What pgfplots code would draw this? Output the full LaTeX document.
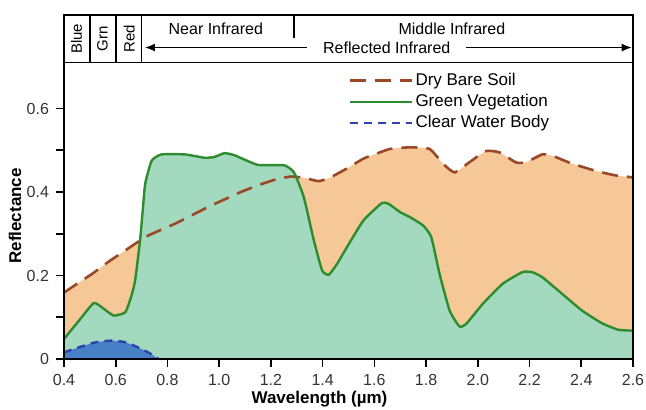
\documentclass[border=0pt]{standalone}
\usepackage{pgfplots}
\pgfplotsset{compat=1.18}
\usepackage{pgfplotstable}
\usepgfplotslibrary{fillbetween}
\usetikzlibrary{arrows.meta}
\usepackage{fontspec}
\setmainfont{Liberation Sans}
\definecolor{soilfill}{RGB}{246,200,152}
\definecolor{vegfill}{RGB}{163,217,190}
\definecolor{waterfill}{RGB}{72,128,200}
\definecolor{soilline}{RGB}{155,72,38}
\definecolor{vegline}{RGB}{45,140,45}
\definecolor{waterline}{RGB}{45,65,175}

\pgfplotstableread{
x y
0.400 0.159
0.450 0.180
0.509 0.204
0.570 0.232
0.637 0.260
0.714 0.292
0.770 0.308
0.829 0.324
0.890 0.343
0.957 0.364
1.020 0.382
1.084 0.400
1.150 0.416
1.213 0.429
1.276 0.437
1.328 0.434
1.385 0.426
1.430 0.435
1.490 0.455
1.558 0.480
1.609 0.492
1.660 0.503
1.737 0.507
1.814 0.503
1.865 0.468
1.910 0.447
1.967 0.471
2.031 0.498
2.083 0.495
2.147 0.471
2.185 0.471
2.249 0.490
2.287 0.487
2.364 0.468
2.454 0.451
2.530 0.440
2.600 0.435
}\soil

\pgfplotstableread{
x y
0.400 0.048
0.458 0.092
0.515 0.134
0.550 0.122
0.592 0.104
0.637 0.112
0.660 0.150
0.675 0.188
0.694 0.284
0.705 0.360
0.714 0.420
0.739 0.475
0.777 0.490
0.867 0.490
0.944 0.482
0.982 0.484
1.020 0.493
1.059 0.488
1.149 0.465
1.251 0.464
1.289 0.447
1.327 0.388
1.366 0.284
1.398 0.212
1.424 0.202
1.456 0.228
1.494 0.268
1.558 0.332
1.628 0.373
1.654 0.372
1.699 0.352
1.737 0.340
1.788 0.320
1.820 0.292
1.852 0.204
1.891 0.116
1.929 0.078
1.955 0.084
2.019 0.132
2.096 0.180
2.172 0.208
2.210 0.208
2.249 0.196
2.326 0.156
2.403 0.116
2.479 0.086
2.543 0.070
2.600 0.068
}\veg

\pgfplotstableread{
x y
0.400 0.016
0.458 0.028
0.522 0.040
0.585 0.044
0.637 0.040
0.700 0.024
0.739 0.011
0.765 0.000
}\water

\begin{document}
\begin{tikzpicture}
\begin{axis}[
  at={(32pt,25.5pt)}, anchor=south west,
  scale only axis, width=284.5pt, height=172pt,
  xmin=0.4, xmax=2.6, ymin=0, ymax=0.824,
  xtick={0.4,0.6,0.8,1.0,1.2,1.4,1.6,1.8,2.0,2.2,2.4,2.6},
  xticklabels={0.4,0.6,0.8,1.0,1.2,1.4,1.6,1.8,2.0,2.2,2.4,2.6},
  ytick={0,0.2,0.4,0.6}, yticklabels={0,0.2,0.4,0.6},
  minor ytick={0.1,0.3,0.5},
  tick align=outside, tick pos=left,
  major tick length=4pt, minor tick length=4pt,
  every tick/.style={black, line width=0.8pt},
  axis line style={line width=0.9pt},
  axis on top,
  ticklabel style={font=\fontsize{8}{9}\selectfont, text=black!80},
  xlabel={Wavelength (µm)}, ylabel={Reflectance},
  xlabel style={font=\bfseries\fontsize{8.5}{10}\selectfont, at={(axis description cs:0.449,0)}, anchor=center, yshift=-20pt},
  ylabel style={font=\bfseries\fontsize{8.5}{10}\selectfont, at={(axis description cs:-0.0861,0.416)}, anchor=center},
  legend style={at={(rel axis cs:0.5,0.841)}, anchor=north west, draw=none, fill=none, inner sep=0pt,
    font=\fontsize{8.5}{10}\selectfont, row sep=0pt,
    nodes={inner sep=1pt, text height=6.6pt, text depth=2pt},
    /tikz/every even column/.append style={column sep=5pt}},
  legend cell align=left,
  legend image code/.code={\draw[#1] (0pt,0pt) -- (31pt,0pt);},
]
\addplot[soilline, line width=1.3pt, dash pattern=on 8pt off 4.5pt, smooth, tension=0.3, name path=soilp] table[x=x,y=y]{\soil};
\addlegendentry{Dry Bare Soil}
\addplot[vegline, line width=1.2pt, smooth, tension=0.3, name path=vegp] table[x=x,y=y]{\veg};
\addlegendentry{Green Vegetation}
\addplot[waterline, line width=1.2pt, dash pattern=on 4pt off 3pt, smooth, tension=0.4, name path=waterp] table[x=x,y=y]{\water};
\addlegendentry{Clear Water Body}

\path[name path=bot] (axis cs:0.4,0) -- (axis cs:2.6,0);
\path[name path=botw] (axis cs:0.4,0) -- (axis cs:0.765,0);

\addplot[soilfill, draw=none, forget plot] fill between[of=soilp and bot];
\addplot[vegfill, draw=none, forget plot] fill between[of=vegp and bot];
\addplot[waterfill, draw=none, forget plot] fill between[of=waterp and botw];

% spectral band header
\draw[line width=0.9pt] (axis cs:0.4,0.710) -- (axis cs:2.6,0.710);
\draw[line width=0.9pt] (axis cs:0.5,0.710) -- (axis cs:0.5,0.824);
\draw[line width=0.9pt] (axis cs:0.6,0.710) -- (axis cs:0.6,0.824);
\draw[line width=0.9pt] (axis cs:0.7,0.710) -- (axis cs:0.7,0.824);
\draw[line width=0.7pt] (axis cs:1.29,0.824) -- (axis cs:1.29,0.768);
\node[rotate=90, font=\fontsize{7.5}{9}\selectfont] at (axis cs:0.448,0.767) {Blue};
\node[rotate=90, font=\fontsize{7.5}{9}\selectfont] at (axis cs:0.549,0.767) {Grn};
\node[rotate=90, font=\fontsize{7.5}{9}\selectfont] at (axis cs:0.652,0.767) {Red};
\node[font=\fontsize{8}{9}\selectfont] at (axis cs:0.987,0.792) {Near Infrared};
\node[font=\fontsize{8}{9}\selectfont] at (axis cs:1.90,0.792) {Middle Infrared};
\draw[{Latex[length=5pt,width=4pt]}-{Latex[length=5pt,width=4pt]}, line width=0.7pt] (axis cs:0.713,0.746) -- (axis cs:2.595,0.746);
\node[font=\fontsize{8}{9}\selectfont, fill=white, inner xsep=8pt, inner ysep=1pt] at (axis cs:1.648,0.746) {Reflected Infrared};
\end{axis}
\pgfresetboundingbox
\useasboundingbox (0,0) rectangle (323pt,205pt);
\end{tikzpicture}
\end{document}
